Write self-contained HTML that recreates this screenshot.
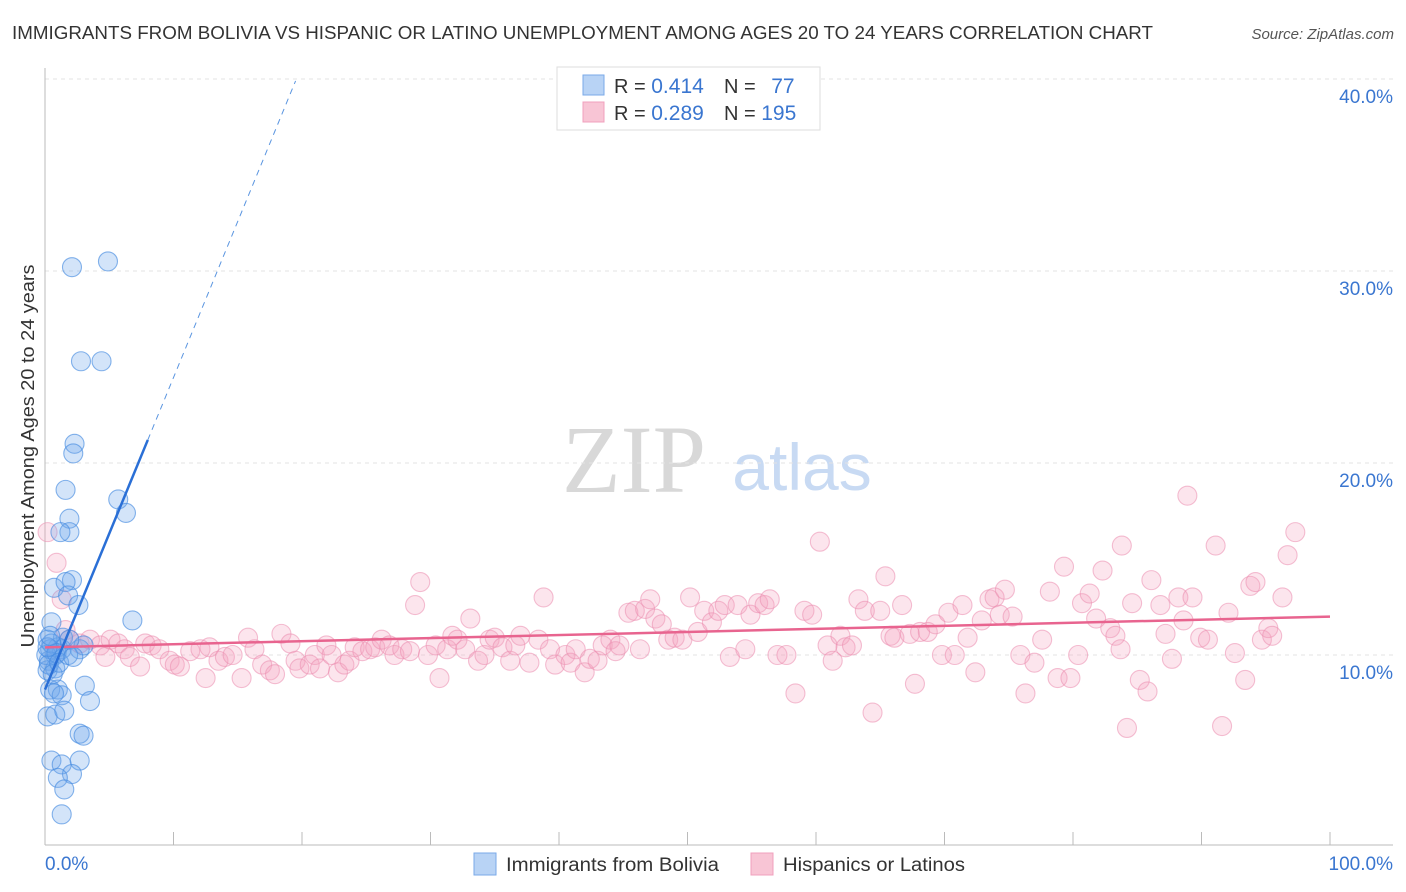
<!DOCTYPE html>
<html><head><meta charset="utf-8"><style>
body{margin:0;background:#fff;font-family:"Liberation Sans",sans-serif;}
#wrap{position:relative;width:1406px;height:892px;overflow:hidden;}
</style></head><body>
<div id="wrap">
<svg id="svg" width="1406" height="892" xmlns="http://www.w3.org/2000/svg">
<text x="12" y="39" font-size="18" fill="#333" textLength="1141" lengthAdjust="spacingAndGlyphs">IMMIGRANTS FROM BOLIVIA VS HISPANIC OR LATINO UNEMPLOYMENT AMONG AGES 20 TO 24 YEARS CORRELATION CHART</text>
<text x="1394" y="39" font-size="15" fill="#555" font-style="italic" text-anchor="end">Source: ZipAtlas.com</text>
<text x="634" y="492" font-size="96" fill="#d8d8d8" font-family="Liberation Serif" text-anchor="middle">ZIP</text>
<text x="802" y="490" font-size="66" fill="#c8daf3" text-anchor="middle">atlas</text>
<g id="grid"></g><g id="pts"></g><g id="lines"></g>
<text transform="translate(34,456) rotate(-90)" font-size="18" fill="#333" text-anchor="middle" textLength="383" lengthAdjust="spacingAndGlyphs">Unemployment Among Ages 20 to 24 years</text>
<g>
<rect x="557" y="67" width="263" height="63" fill="#fff" stroke="#ddd"/>
<rect x="583" y="75" width="21" height="20" fill="#b8d3f5" stroke="#7aaae8"/>
<rect x="583" y="102" width="21" height="20" fill="#f8c5d5" stroke="#f0a0bd"/>
<text x="614" y="93" font-size="20" fill="#333">R = <tspan fill="#3a76d0" font-size="21">0.414</tspan></text>
<text x="724" y="93" font-size="20" fill="#333">N = <tspan fill="#3a76d0" dx="10" font-size="21">77</tspan></text>
<text x="614" y="120" font-size="20" fill="#333">R = <tspan fill="#3a76d0" font-size="21">0.289</tspan></text>
<text x="724" y="120" font-size="20" fill="#333">N = <tspan fill="#3a76d0" font-size="21">195</tspan></text>
</g>
<g>
<rect x="474" y="853" width="22" height="22" fill="#b8d3f5" stroke="#7aaae8"/>
<text x="506" y="871" font-size="19" fill="#333" textLength="213" lengthAdjust="spacingAndGlyphs">Immigrants from Bolivia</text>
<rect x="751" y="853" width="22" height="22" fill="#f8c5d5" stroke="#f0a0bd"/>
<text x="783" y="871" font-size="19" fill="#333" textLength="182" lengthAdjust="spacingAndGlyphs">Hispanics or Latinos</text>
</g>
<text x="45" y="870" font-size="19" fill="#3a76d0">0.0%</text>
<text x="1393" y="870" font-size="19" fill="#3a76d0" text-anchor="end">100.0%</text>
</svg>
</div>
<script>
const yTicks=[10,20,30,40];
const yTickLabels=["10.0%","20.0%","30.0%","40.0%"];
const xTicks=[0,10,20,30,40,50,60,70,80,90,100];
const blueX=[2.1,4.9,2.8,4.4,2.3,2.2,1.6,5.7,6.3,1.9,1.9,1.2,2.1,0.7,1.6,1.8,2.6,6.8,0.5,1.4,1.0,0.8,0.3,1.3,2.7,3.0,1.9,0.4,1.0,1.3,3.1,3.5,0.2,0.8,1.5,2.7,3.0,0.5,1.3,2.7,2.1,1.0,1.5,1.3,0.2,0.2,0.8,0.4,0.1,0.5,0.3,0.6,0.9,0.2,1.1,0.4,0.7,1.8,2.2];
const blueY=[30.2,30.5,25.3,25.3,21.0,20.5,18.6,18.1,17.4,17.1,16.4,16.4,13.9,13.5,13.8,13.1,12.6,11.8,11.7,10.9,10.4,10.0,9.7,10.3,10.3,10.5,10.8,8.2,8.2,7.9,8.4,7.6,6.8,6.9,7.1,5.9,5.8,4.5,4.3,4.5,3.8,3.6,3.0,1.7,10.8,9.2,9.3,10.3,10.0,10.6,9.5,9.0,10.1,10.4,9.6,11.0,8.0,10.0,9.9];
const pinkX=[0.2,0.9,1.3,1.6,1.9,2.7,3.5,4.3,4.7,5.1,5.7,6.2,6.6,7.4,7.8,8.3,8.9,9.7,10.1,10.5,11.3,12.1,12.5,12.8,13.5,14.0,14.6,15.3,15.8,16.3,16.9,17.5,17.9,18.4,19.1,19.5,19.8,20.6,21.0,21.4,21.9,22.3,22.8,23.3,23.7,24.1,24.7,25.3,25.7,26.2,26.8,27.2,27.8,28.4,28.8,29.2,29.8,30.4,30.7,31.3,31.7,32.1,32.7,33.1,33.7,34.2,34.6,35.0,35.6,36.2,36.6,37.0,37.7,38.4,38.8,39.3,39.7,40.5,40.9,41.3,42.0,42.4,43.0,43.4,44.0,44.4,44.7,45.4,45.9,46.3,46.7,47.1,47.5,48.0,48.5,49.0,49.6,50.2,50.8,51.3,51.9,52.4,52.9,53.3,53.9,54.5,54.9,55.5,56.0,56.4,57.0,57.7,58.4,59.1,59.7,60.3,60.9,61.3,61.9,62.3,62.8,63.3,63.8,64.4,65.0,65.4,65.8,66.1,66.7,67.3,67.7,68.1,68.7,69.3,69.8,70.3,70.8,71.4,71.8,72.4,72.9,73.5,73.9,74.3,74.7,75.3,75.9,76.3,77.0,77.6,78.2,78.8,79.3,79.8,80.4,80.7,81.3,81.8,82.3,82.9,83.3,83.8,84.6,85.2,85.8,86.1,86.8,87.2,87.7,88.2,88.6,88.9,89.3,89.9,90.5,91.1,91.6,92.1,92.6,93.4,93.8,94.2,94.7,95.2,95.5,96.3,96.7,97.3,84.2,83.7];
const pinkY=[16.4,14.8,12.9,11.3,10.8,10.6,10.8,10.5,9.9,10.8,10.6,10.3,9.9,9.4,10.6,10.5,10.3,9.7,9.5,9.4,10.2,10.3,8.8,10.4,9.7,9.9,10.0,8.8,10.9,10.3,9.5,9.2,9.0,11.1,10.6,9.7,9.3,9.5,10.0,9.3,10.5,10.0,9.1,9.5,9.7,10.4,10.2,10.3,10.4,10.8,10.5,10.0,10.3,10.2,12.6,13.8,10.0,10.5,8.8,10.3,11.0,10.8,10.3,11.9,9.7,10.0,10.8,10.9,10.4,9.7,10.5,11.0,9.6,10.8,13.0,10.3,9.5,10.0,9.6,10.3,9.1,9.8,9.7,10.5,10.8,10.2,10.5,12.2,12.3,10.3,12.4,12.9,11.9,11.6,10.8,10.9,10.8,13.0,11.2,12.3,11.7,12.3,12.6,9.9,12.6,10.3,12.1,12.7,12.6,12.9,10.0,10.0,8.0,12.3,12.1,15.9,10.5,9.7,11.0,10.4,10.5,12.9,12.3,7.0,12.3,14.1,11.0,10.9,12.6,11.1,8.5,11.2,11.2,11.6,10.0,12.2,10.0,12.6,10.9,9.1,11.8,12.9,13.0,12.1,13.4,12.0,10.0,8.0,9.6,10.8,13.3,8.8,14.6,8.8,10.0,12.7,13.2,11.9,14.4,11.4,11.0,15.7,12.7,8.7,8.1,13.9,12.6,11.1,9.8,13.0,11.8,18.3,13.0,10.9,10.8,15.7,6.3,12.2,10.1,8.7,13.6,13.8,10.8,11.4,11.0,13.0,15.2,16.4,6.2,10.3];
const blueTrend={x0:0,y0:8.2,x1:8.0,y1:21.2,xd:19.5,yd:39.9};
const pinkTrend={x0:0,y0:10.4,x1:100,y1:12.0};

const NS="http://www.w3.org/2000/svg";
const sx=v=>45+v*12.85, sy=v=>847-v*19.2;
function mk(tag,attrs,parent){const e=document.createElementNS(NS,tag);for(const k in attrs)e.setAttribute(k,attrs[k]);parent.appendChild(e);return e;}
const grid=document.getElementById('grid');
yTicks.forEach((t,i)=>{
  const l=mk('line',{x1:45,x2:1393,y1:sy(t),y2:sy(t),stroke:'#e3e3e3','stroke-dasharray':'4,4'},grid);
  
  
  const tx=mk('text',{x:1393,y:sy(t)+24,'font-size':19,fill:'#3a76d0','text-anchor':'end'},grid);
  tx.textContent=yTickLabels[i];
  
  
});
const ax=mk('line',{x1:45,x2:45,y1:68,y2:845,stroke:'#bbb'},grid);


const bx=mk('line',{x1:45,x2:1393,y1:845,y2:845,stroke:'#bbb'},grid);


xTicks.forEach(t=>{
  const l=mk('line',{x1:sx(t),x2:sx(t),y1:832,y2:845,stroke:'#bbb'},grid);
  
  
});
const pts=document.getElementById('pts');
pinkX.forEach((x,i)=>{
  const c=mk('circle',{cx:sx(x),cy:sy(pinkY[i]),r:9.5,fill:'rgba(244,160,190,0.28)',stroke:'rgba(235,140,175,0.55)','stroke-width':1.1},pts);
  
  
});
blueX.forEach((x,i)=>{
  const c=mk('circle',{cx:sx(x),cy:sy(blueY[i]),r:9.5,fill:'rgba(110,165,235,0.3)',stroke:'rgba(70,140,225,0.65)','stroke-width':1.1},pts);
  
  
});
const lines=document.getElementById('lines');
const pl=mk('line',{x1:sx(pinkTrend.x0),y1:sy(pinkTrend.y0),x2:sx(pinkTrend.x1),y2:sy(pinkTrend.y1),stroke:'#e8648f','stroke-width':2.5},lines);


const bl=mk('line',{x1:sx(blueTrend.x0),y1:sy(blueTrend.y0),x2:sx(blueTrend.x1),y2:sy(blueTrend.y1),stroke:'#2a6fd6','stroke-width':2.5},lines);


const bd=mk('line',{x1:sx(blueTrend.x1),y1:sy(blueTrend.y1),x2:sx(blueTrend.xd),y2:sy(blueTrend.yd),stroke:'#5a95e0','stroke-width':1,'stroke-dasharray':'6,5'},lines);


</script>
</body></html>
